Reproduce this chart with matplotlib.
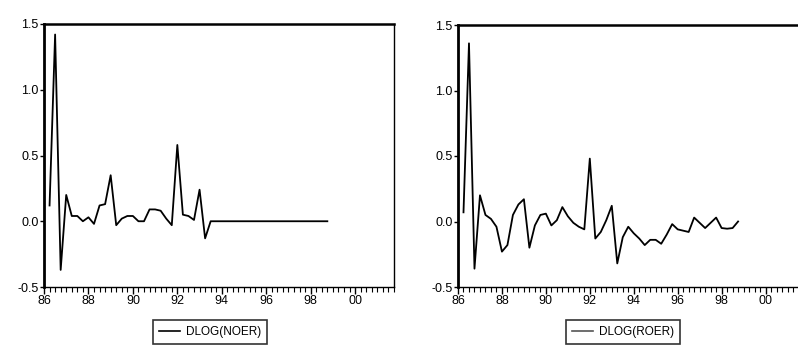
import numpy as np
import pandas as pd
import matplotlib
matplotlib.use("Agg")
import matplotlib.pyplot as plt
from matplotlib.ticker import MultipleLocator

plt.rcParams['font.family'] = ['Liberation Sans', 'DejaVu Sans']

# quarterly periods 1986Q2 - 1998Q4
periods = pd.period_range("1986Q2", "1998Q4", freq="Q")

dlog_noer = [0.12, 1.42, -0.37,
             0.20, 0.04, 0.04, 0.00,
             0.03, -0.02, 0.12, 0.13,
             0.35, -0.03, 0.02, 0.04,
             0.04, 0.00, 0.00, 0.09,
             0.09, 0.08, 0.02, -0.03,
             0.58, 0.05, 0.04, 0.01,
             0.24, -0.13, 0.00, 0.00,
             0.00, 0.00, 0.00, 0.00,
             0.00, 0.00, 0.00, 0.00,
             0.00, 0.00, 0.00, 0.00,
             0.00, 0.00, 0.00, 0.00,
             0.00, 0.00, 0.00, 0.00]

dlog_roer = [0.07, 1.36, -0.36,
             0.20, 0.05, 0.02, -0.04,
             -0.23, -0.18, 0.05, 0.13,
             0.17, -0.20, -0.03, 0.05,
             0.06, -0.03, 0.01, 0.11,
             0.04, -0.01, -0.04, -0.06,
             0.48, -0.13, -0.08, 0.01,
             0.12, -0.32, -0.12, -0.04,
             -0.09, -0.13, -0.18, -0.14,
             -0.14, -0.17, -0.10, -0.02,
             -0.06, -0.07, -0.08, 0.03,
             -0.01, -0.05, -0.01, 0.03,
             -0.05, -0.055, -0.05, 0.00]

tick_years = [1986, 1988, 1990, 1992, 1994, 1996, 1998, 2000]
tick_labels = ["86", "88", "90", "92", "94", "96", "98", "00"]
y_ticks = [-0.5, 0.0, 0.5, 1.0, 1.5]

x = periods.year + (periods.quarter - 1) / 4.0

W, H = 798, 345
fig = plt.figure(figsize=(W / 100, H / 100), dpi=100)

def panel(left_px, right_px, top_px, bot_px, y, label, line_color, legend_px, right_spine):
    ax = fig.add_axes([left_px / W, 1 - bot_px / H, (right_px - left_px) / W, (bot_px - top_px) / H])
    ax.plot(x, y, color="black", lw=1.3)
    ax.set_xlim(1986, 2001.75)
    ax.set_ylim(-0.5, 1.5)
    ax.set_xticks(tick_years)
    ax.set_xticklabels(tick_labels)
    ax.xaxis.set_minor_locator(MultipleLocator(0.25))
    ax.set_yticks(y_ticks)
    ax.set_yticklabels(["%.1f" % v for v in y_ticks])
    ax.tick_params(axis="x", which="major", direction="out", length=5, width=1, pad=1, labelsize=9)
    ax.tick_params(axis="x", which="minor", direction="out", length=3.5, width=0.8)
    ax.tick_params(axis="y", direction="out", length=3, width=1, pad=1, labelsize=9)
    ax.spines["left"].set_linewidth(2)
    ax.spines["top"].set_linewidth(1.8)
    ax.spines["bottom"].set_linewidth(1)
    ax.spines["right"].set_linewidth(1)
    ax.spines["right"].set_visible(right_spine)
    h, = ax.plot([], [], color=line_color, lw=1.2)
    leg = fig.legend([h], [label], loc="upper left",
                     bbox_to_anchor=(legend_px / W, 1 - 320 / H),
                     frameon=True, fancybox=False,
                     prop={"size": 8.5},
                     handlelength=1.8, borderpad=0.5, handletextpad=0.5,
                     borderaxespad=0)
    leg.get_frame().set_edgecolor("black")
    leg.get_frame().set_linewidth(1.2)
    return ax

panel(44, 394, 24, 287, dlog_noer, "DLOG(NOER)", "black", 153, True)
panel(458, 804, 25, 287, dlog_roer, "DLOG(ROER)", "#555555", 566, False)

fig.savefig("out.png", dpi=100)
